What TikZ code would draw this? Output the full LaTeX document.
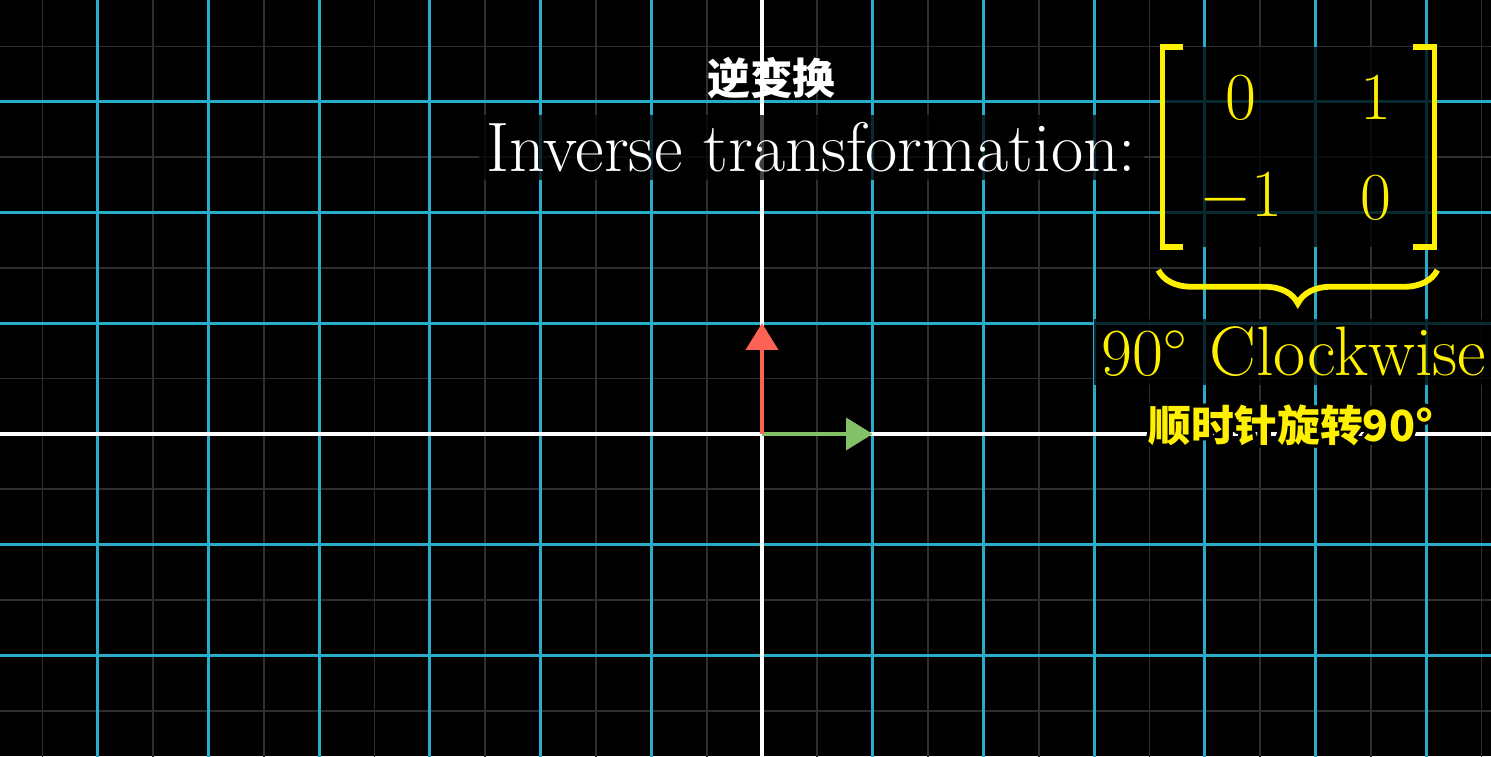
\documentclass[tikz,border=0pt]{standalone}
\usepackage{fontspec}
\newfontfamily\cjk{Noto Sans CJK SC}
\usepackage{contour}
\contourlength{0.9pt}
\usetikzlibrary{arrows.meta,calc,decorations.pathreplacing}
\definecolor{gridblue}{HTML}{29ABCA}
\definecolor{vecred}{HTML}{FC6255}
\definecolor{vecgreen}{HTML}{83C167}
\definecolor{myyellow}{HTML}{FFF000}
\definecolor{faintgray}{HTML}{2E2E2E}

\begin{document}
\begin{tikzpicture}[>=Stealth,
  faint/.style={faintgray,line width=0.45pt},
  gridline/.style={gridblue,line width=0.8pt},
  axis/.style={white,line width=0.8pt},
  vec/.style={line width=0.8pt,-{Triangle[length=0.24cm,width=0.29cm]}},
  textbg/.style={fill=black,fill opacity=0.75,text opacity=1,inner sep=2pt},
  bigtext/.style={font=\fontsize{18}{21}\selectfont},
  cntext/.style={font=\cjk\bfseries\fontsize{11}{13}\selectfont},
  bracket/.style={myyellow,line width=1.4pt}]
  \fill[black] (-6.883,-2.909) rectangle (6.585,3.920);
  \useasboundingbox (-6.883,-2.909) rectangle (6.585,3.920);
  \clip (-6.883,-2.909) rectangle (6.585,3.920);
  % background grid
  \draw[faint] (-7,-3) grid[step=0.5] (7,4);
  \foreach \x in {-6,...,6} \draw[gridline] (\x,-3) -- (\x,4);
  \foreach \y in {-2,...,3} \draw[gridline] (-7,\y) -- (7,\y);
  \draw[axis] (0,-3) -- (0,4);
  \draw[axis] (-7,0) -- (7,0);
  % basis vectors
  \coordinate (O) at (0,0);
  \coordinate (ihat) at (1,0);
  \coordinate (jhat) at (0,1);
  \draw[vec,vecgreen] (O) -- (ihat);
  \draw[vec,vecred] (O) -- (jhat);
  % title
  \node[cntext,text=white] (titlecn) at (0.086,3.216) {逆变换};
  \node[textbg,bigtext,text=white,anchor=base east] (title) at (3.46,2.367) {Inverse transformation:};
  % matrix
  \coordinate (TL) at (3.619,3.496);
  \coordinate (BL) at (3.619,1.689);
  \coordinate (TR) at (6.075,3.496);
  \coordinate (BR) at (6.075,1.689);
  \fill[black,opacity=0.75] (BL) rectangle (TR);
  \node[bigtext,text=myyellow] (a11) at (4.327,3.035) {$0$};
  \node[bigtext,text=myyellow] (a12) at (5.547,3.035) {$1$};
  \node[bigtext,text=myyellow] (a21) at (4.327,2.132) {$-1$};
  \node[bigtext,text=myyellow] (a22) at (5.547,2.132) {$0$};
  \draw[bracket] ($(TL)+(0.184,0)$) -- (TL) -- (BL) -- ($(BL)+(0.184,0)$);
  \draw[bracket] ($(TR)+(-0.194,0)$) -- (TR) -- (BR) -- ($(BR)+(-0.194,0)$);
  \draw[myyellow,line width=1.5pt,decorate,decoration={brace,mirror,amplitude=0.3cm}]
    (3.58,1.48) -- (6.10,1.48);
  % label below
  \node[textbg,bigtext,text=myyellow,anchor=base west] (rotlabel) at (2.99,0.524) {$90^\circ$ Clockwise};
  \node[cntext,text=myyellow] (rotcn) at (4.779,0.063) {\contour{black}{顺时针旋转90°}};
\end{tikzpicture}
\end{document}
